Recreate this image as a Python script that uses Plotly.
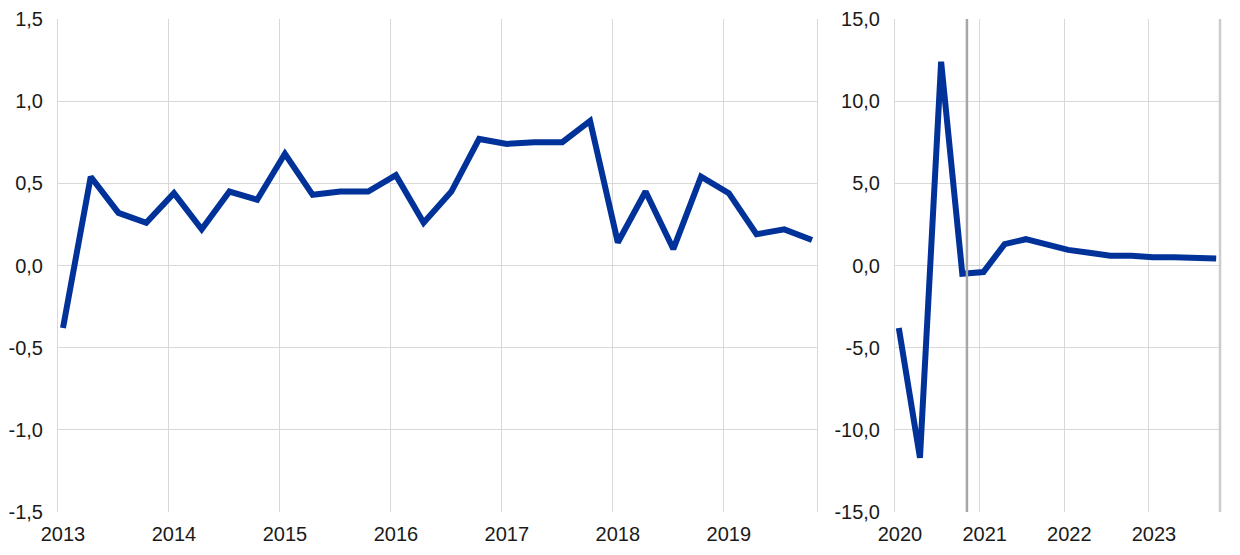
import plotly.graph_objects as go

# Left panel: quarterly, 2013Q1-2019Q4
years_left = [2013, 2014, 2015, 2016, 2017, 2018, 2019]
values_left = [-0.38, 0.54, 0.32, 0.26,
               0.44, 0.22, 0.45, 0.40,
               0.68, 0.43, 0.45, 0.45,
               0.55, 0.26, 0.45, 0.77,
               0.74, 0.75, 0.75, 0.88,
               0.14, 0.45, 0.10, 0.54,
               0.44, 0.19, 0.22, 0.155]

# Right panel: quarterly, 2020Q1-2023Q4
years_right = [2020, 2021, 2022, 2023]
values_right = [-3.8, -11.7, 12.4, -0.5,
                -0.4, 1.3, 1.6, 1.3,
                0.95, 0.78, 0.6, 0.6,
                0.5, 0.5, 0.42, 0.42]

marker_date = 2020.85  # vertical separator line in right panel

left_ticks = [-1.5, -1.0, -0.5, 0.0, 0.5, 1.0, 1.5]
right_ticks = [-15, -10, -5, 0, 5, 10, 15]

def quarter_x(years):
    return [y + q / 4 + 0.045 for y in years for q in range(4)]

def fmt(v):
    return f"{v:.1f}".replace(".", ",")

x_left = quarter_x(years_left)
x_right = quarter_x(years_right)

BLUE = "#003299"
GRID = "#d9d9d9"
FONT = dict(family="Liberation Sans, Arial, sans-serif", size=20, color="#1a1a1a")

fig = go.Figure()
fig.add_trace(go.Scatter(x=x_left, y=values_left, mode="lines",
                         line=dict(color=BLUE, width=6), xaxis="x", yaxis="y",
                         showlegend=False, hoverinfo="skip"))
fig.add_trace(go.Scatter(x=x_right, y=values_right, mode="lines",
                         line=dict(color=BLUE, width=6), xaxis="x2", yaxis="y2",
                         showlegend=False, hoverinfo="skip"))

W, H = 1240, 555
OFF = 8  # page body margin
ml, mt = 58 - OFF, 19 - OFF
mr = W - (1220 - OFF)
mb = H - (512 - OFF)
pw = W - ml - mr
d1_end = (817 - 58) / pw
d2_start = (895 - 58) / pw

common_x = dict(showgrid=True, gridcolor=GRID, gridwidth=1, zeroline=False,
                showline=False, ticks="", tickfont=FONT, ticklabelshift=5,
                ticklabelstandoff=8, fixedrange=True, automargin=False)
common_y = dict(showgrid=True, gridcolor=GRID, gridwidth=1, zeroline=False,
                showline=True, linecolor=GRID, linewidth=1, mirror=True,
                ticks="", tickfont=FONT, ticklabelstandoff=10, fixedrange=True,
                automargin=False)

fig.update_layout(
    width=W, height=H,
    margin=dict(l=ml, r=mr, t=mt, b=mb),
    paper_bgcolor="white", plot_bgcolor="white",
    font=FONT,
    xaxis=dict(domain=[0, d1_end], range=[2013, 2019.84],
               tickvals=years_left, ticktext=[str(y) for y in years_left],
               anchor="y", **common_x),
    yaxis=dict(domain=[0, 1], range=[-1.5, 1.5], tickvals=left_ticks,
               ticktext=[fmt(v) for v in left_ticks], anchor="x", **common_y),
    xaxis2=dict(domain=[d2_start, 1], range=[2020, 2023.84],
                tickvals=years_right, ticktext=[str(y) for y in years_right],
                anchor="y2", **common_x),
    yaxis2=dict(domain=[0, 1], range=[-15, 15], tickvals=right_ticks,
                ticktext=[fmt(v) for v in right_ticks], anchor="x2", **common_y),
    shapes=[
        dict(type="line", xref="x2", yref="y2 domain", x0=marker_date, x1=marker_date,
             y0=0, y1=1, line=dict(color="#a6a6a6", width=2.5), layer="above"),
        dict(type="line", xref="x2 domain", yref="y2 domain", x0=1, x1=1,
             y0=0, y1=1, line=dict(color="#cccccc", width=2.5), layer="above"),
    ],
)

fig.write_html("out.html")
